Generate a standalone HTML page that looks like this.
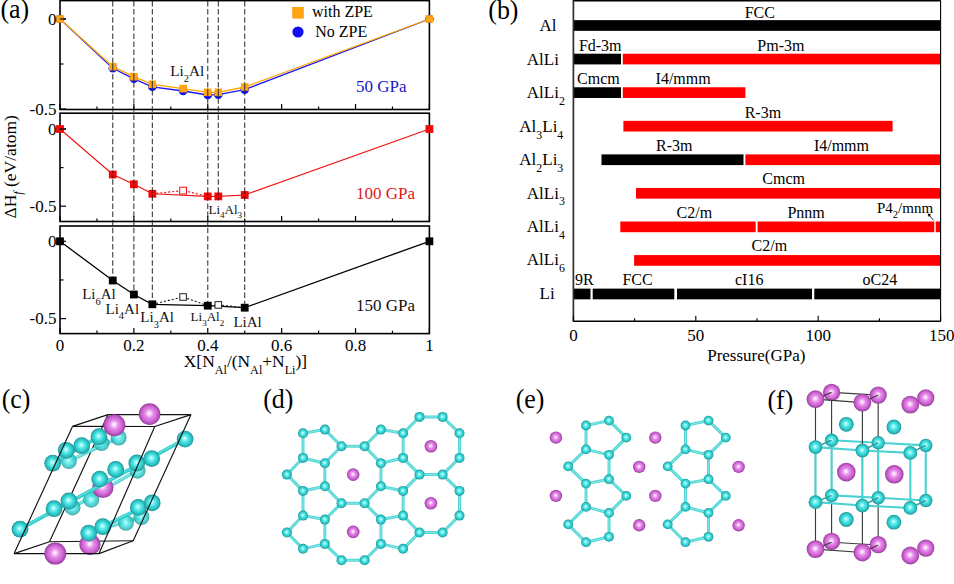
<!DOCTYPE html>
<html><head><meta charset="utf-8"><title>figure</title>
<style>
html,body{margin:0;padding:0;background:#fff;}
body{width:954px;height:584px;overflow:hidden;font-family:"Liberation Serif",serif;}
svg{display:block;}
</style></head><body>
<svg width="954" height="584" viewBox="0 0 954 584">
<defs>
<radialGradient id="gc" cx="0.5" cy="0.5" r="0.5" fx="0.47" fy="0.45">
<stop offset="0" stop-color="#f0ffff"/><stop offset="0.2" stop-color="#8ef6f6"/><stop offset="0.5" stop-color="#42dfdf"/><stop offset="0.8" stop-color="#2bbcbd"/><stop offset="1" stop-color="#1f9296"/>
</radialGradient>
<radialGradient id="gp" cx="0.5" cy="0.5" r="0.5" fx="0.48" fy="0.46">
<stop offset="0" stop-color="#ffffff"/><stop offset="0.14" stop-color="#fcd8fc"/><stop offset="0.4" stop-color="#e58ae8"/><stop offset="0.7" stop-color="#d066d4"/><stop offset="0.9" stop-color="#ac4ab2"/><stop offset="1" stop-color="#92409a"/>
</radialGradient>
</defs>
<rect x="0" y="0" width="954" height="584" fill="#ffffff"/>

<g id="panel-a">
<line x1="112.77" y1="1.00" x2="112.77" y2="280.50" stroke="#3a3a3a" stroke-width="1.1" stroke-dasharray="5.5 2.6"/>
<line x1="133.88" y1="1.00" x2="133.88" y2="294.50" stroke="#3a3a3a" stroke-width="1.1" stroke-dasharray="5.5 2.6"/>
<line x1="152.35" y1="1.00" x2="152.35" y2="304.30" stroke="#3a3a3a" stroke-width="1.1" stroke-dasharray="5.5 2.6"/>
<line x1="207.76" y1="1.00" x2="207.76" y2="305.70" stroke="#3a3a3a" stroke-width="1.1" stroke-dasharray="5.5 2.6"/>
<line x1="218.31" y1="1.00" x2="218.31" y2="196.40" stroke="#3a3a3a" stroke-width="1.1" stroke-dasharray="5.5 2.6"/>
<line x1="244.70" y1="1.00" x2="244.70" y2="307.70" stroke="#3a3a3a" stroke-width="1.1" stroke-dasharray="5.5 2.6"/>
<rect x="60.00" y="0.60" width="369.40" height="108.90" fill="none" stroke="#000" stroke-width="1.6"/>
<line x1="60.00" y1="109.50" x2="60.00" y2="104.00" stroke="#000" stroke-width="1.2" />
<line x1="96.94" y1="109.50" x2="96.94" y2="106.50" stroke="#000" stroke-width="1.2" />
<line x1="133.88" y1="109.50" x2="133.88" y2="104.00" stroke="#000" stroke-width="1.2" />
<line x1="170.82" y1="109.50" x2="170.82" y2="106.50" stroke="#000" stroke-width="1.2" />
<line x1="207.76" y1="109.50" x2="207.76" y2="104.00" stroke="#000" stroke-width="1.2" />
<line x1="244.70" y1="109.50" x2="244.70" y2="106.50" stroke="#000" stroke-width="1.2" />
<line x1="281.64" y1="109.50" x2="281.64" y2="104.00" stroke="#000" stroke-width="1.2" />
<line x1="318.58" y1="109.50" x2="318.58" y2="106.50" stroke="#000" stroke-width="1.2" />
<line x1="355.52" y1="109.50" x2="355.52" y2="104.00" stroke="#000" stroke-width="1.2" />
<line x1="392.46" y1="109.50" x2="392.46" y2="106.50" stroke="#000" stroke-width="1.2" />
<line x1="429.40" y1="109.50" x2="429.40" y2="104.00" stroke="#000" stroke-width="1.2" />
<line x1="60.00" y1="19.00" x2="66.00" y2="19.00" stroke="#000" stroke-width="1.2" />
<line x1="60.00" y1="109.00" x2="66.00" y2="109.00" stroke="#000" stroke-width="1.2" />
<line x1="60.00" y1="64.00" x2="63.50" y2="64.00" stroke="#000" stroke-width="1.2" />
<rect x="60.00" y="113.20" width="369.40" height="108.30" fill="none" stroke="#000" stroke-width="1.6"/>
<line x1="60.00" y1="221.50" x2="60.00" y2="216.00" stroke="#000" stroke-width="1.2" />
<line x1="96.94" y1="221.50" x2="96.94" y2="218.50" stroke="#000" stroke-width="1.2" />
<line x1="133.88" y1="221.50" x2="133.88" y2="216.00" stroke="#000" stroke-width="1.2" />
<line x1="170.82" y1="221.50" x2="170.82" y2="218.50" stroke="#000" stroke-width="1.2" />
<line x1="207.76" y1="221.50" x2="207.76" y2="216.00" stroke="#000" stroke-width="1.2" />
<line x1="244.70" y1="221.50" x2="244.70" y2="218.50" stroke="#000" stroke-width="1.2" />
<line x1="281.64" y1="221.50" x2="281.64" y2="216.00" stroke="#000" stroke-width="1.2" />
<line x1="318.58" y1="221.50" x2="318.58" y2="218.50" stroke="#000" stroke-width="1.2" />
<line x1="355.52" y1="221.50" x2="355.52" y2="216.00" stroke="#000" stroke-width="1.2" />
<line x1="392.46" y1="221.50" x2="392.46" y2="218.50" stroke="#000" stroke-width="1.2" />
<line x1="429.40" y1="221.50" x2="429.40" y2="216.00" stroke="#000" stroke-width="1.2" />
<line x1="60.00" y1="129.00" x2="66.00" y2="129.00" stroke="#000" stroke-width="1.2" />
<line x1="60.00" y1="206.20" x2="66.00" y2="206.20" stroke="#000" stroke-width="1.2" />
<line x1="60.00" y1="167.60" x2="63.50" y2="167.60" stroke="#000" stroke-width="1.2" />
<rect x="60.00" y="226.00" width="369.40" height="107.60" fill="none" stroke="#000" stroke-width="1.6"/>
<line x1="60.00" y1="333.60" x2="60.00" y2="328.10" stroke="#000" stroke-width="1.2" />
<line x1="96.94" y1="333.60" x2="96.94" y2="330.60" stroke="#000" stroke-width="1.2" />
<line x1="133.88" y1="333.60" x2="133.88" y2="328.10" stroke="#000" stroke-width="1.2" />
<line x1="170.82" y1="333.60" x2="170.82" y2="330.60" stroke="#000" stroke-width="1.2" />
<line x1="207.76" y1="333.60" x2="207.76" y2="328.10" stroke="#000" stroke-width="1.2" />
<line x1="244.70" y1="333.60" x2="244.70" y2="330.60" stroke="#000" stroke-width="1.2" />
<line x1="281.64" y1="333.60" x2="281.64" y2="328.10" stroke="#000" stroke-width="1.2" />
<line x1="318.58" y1="333.60" x2="318.58" y2="330.60" stroke="#000" stroke-width="1.2" />
<line x1="355.52" y1="333.60" x2="355.52" y2="328.10" stroke="#000" stroke-width="1.2" />
<line x1="392.46" y1="333.60" x2="392.46" y2="330.60" stroke="#000" stroke-width="1.2" />
<line x1="429.40" y1="333.60" x2="429.40" y2="328.10" stroke="#000" stroke-width="1.2" />
<line x1="60.00" y1="241.30" x2="66.00" y2="241.30" stroke="#000" stroke-width="1.2" />
<line x1="60.00" y1="318.60" x2="66.00" y2="318.60" stroke="#000" stroke-width="1.2" />
<line x1="60.00" y1="279.95" x2="63.50" y2="279.95" stroke="#000" stroke-width="1.2" />
<polyline points="60.0,19.0 112.8,68.3 133.9,78.8 152.3,86.8 183.1,91.0 207.8,95.0 218.3,94.6 244.7,89.6 429.4,19.0" fill="none" stroke="#1a1aee" stroke-width="1.3"/>
<circle cx="60.0" cy="19.0" r="4.3" fill="#1010f0"/>
<circle cx="112.8" cy="68.3" r="4.3" fill="#1010f0"/>
<circle cx="133.9" cy="78.8" r="4.3" fill="#1010f0"/>
<circle cx="152.3" cy="86.8" r="4.3" fill="#1010f0"/>
<circle cx="183.1" cy="91.0" r="4.3" fill="#1010f0"/>
<circle cx="207.8" cy="95.0" r="4.3" fill="#1010f0"/>
<circle cx="218.3" cy="94.6" r="4.3" fill="#1010f0"/>
<circle cx="244.7" cy="89.6" r="4.3" fill="#1010f0"/>
<circle cx="429.4" cy="19.0" r="4.3" fill="#1010f0"/>
<polyline points="60.0,19.0 112.8,66.7 133.9,76.7 152.3,84.3 183.1,88.6 207.8,92.3 218.3,92.3 244.7,87.0 429.4,19.0" fill="none" stroke="#ffa500" stroke-width="1.3"/>
<rect x="56.20" y="15.20" width="7.60" height="7.60" fill="#ffa412" />
<rect x="108.97" y="62.90" width="7.60" height="7.60" fill="#ffa412" />
<rect x="130.08" y="72.90" width="7.60" height="7.60" fill="#ffa412" />
<rect x="148.55" y="80.50" width="7.60" height="7.60" fill="#ffa412" />
<rect x="179.33" y="84.80" width="7.60" height="7.60" fill="#ffa412" />
<rect x="203.96" y="88.50" width="7.60" height="7.60" fill="#ffa412" />
<rect x="214.51" y="88.50" width="7.60" height="7.60" fill="#ffa412" />
<rect x="240.90" y="83.20" width="7.60" height="7.60" fill="#ffa412" />
<rect x="425.60" y="15.20" width="7.60" height="7.60" fill="#ffa412" />
<line x1="112.77" y1="63.20" x2="112.77" y2="71.70" stroke="#3a3a3a" stroke-width="1.1" />
<line x1="133.88" y1="73.20" x2="133.88" y2="81.70" stroke="#3a3a3a" stroke-width="1.1" />
<line x1="152.35" y1="80.80" x2="152.35" y2="89.30" stroke="#3a3a3a" stroke-width="1.1" />
<line x1="207.76" y1="88.80" x2="207.76" y2="97.30" stroke="#3a3a3a" stroke-width="1.1" />
<line x1="218.31" y1="88.80" x2="218.31" y2="97.30" stroke="#3a3a3a" stroke-width="1.1" />
<line x1="244.70" y1="83.50" x2="244.70" y2="92.00" stroke="#3a3a3a" stroke-width="1.1" />
<line x1="60.00" y1="19.00" x2="66.00" y2="19.00" stroke="#000" stroke-width="1.2" />
<rect x="292.20" y="7.00" width="11.60" height="11.60" fill="#ffa412" />
<circle cx="298" cy="32" r="5.6" fill="#1010f0"/>
<text x="312.00" y="17.20" font-size="16" fill="#000" text-anchor="start" font-family="Liberation Serif, serif" >with ZPE</text>
<text x="315.20" y="37.20" font-size="16" fill="#000" text-anchor="start" font-family="Liberation Serif, serif" >No ZPE</text>
<text x="356.00" y="91.60" font-size="17" fill="#1818c8" text-anchor="start" font-family="Liberation Serif, serif" >50 GPa</text>
<text x="170.20" y="76.40" font-size="15.2" fill="#111" text-anchor="start" font-family="Liberation Serif, serif" >Li<tspan font-size="10.6" dy="5.8">2</tspan><tspan dy="-5.8" font-size="15.2">&#8203;</tspan>Al</text>
<polyline points="60.0,129.0 112.8,174.5 133.9,184.3 152.3,193.8 207.8,196.4 218.3,196.4 244.7,195.0 429.4,129.0" fill="none" stroke="#ee1111" stroke-width="1.15"/>
<polyline points="152.3,193.8 183.1,190.6 207.8,196.4" fill="none" stroke="#ee1111" stroke-width="1.2" stroke-dasharray="2 2"/>
<rect x="179.7" y="187.2" width="6.8" height="6.8" fill="#fff" stroke="#ee1111" stroke-width="1"/>
<rect x="56.10" y="125.10" width="7.80" height="7.80" fill="#ee0a0a" />
<rect x="108.87" y="170.60" width="7.80" height="7.80" fill="#ee0a0a" />
<rect x="129.98" y="180.40" width="7.80" height="7.80" fill="#ee0a0a" />
<rect x="148.45" y="189.90" width="7.80" height="7.80" fill="#ee0a0a" />
<rect x="203.86" y="192.50" width="7.80" height="7.80" fill="#ee0a0a" />
<rect x="214.41" y="192.50" width="7.80" height="7.80" fill="#ee0a0a" />
<rect x="240.80" y="191.10" width="7.80" height="7.80" fill="#ee0a0a" />
<rect x="425.50" y="125.10" width="7.80" height="7.80" fill="#ee0a0a" />
<line x1="112.77" y1="170.50" x2="112.77" y2="178.50" stroke="#5a0000" stroke-width="0.9" stroke-dasharray="3 2"/>
<line x1="133.88" y1="180.30" x2="133.88" y2="188.30" stroke="#5a0000" stroke-width="0.9" stroke-dasharray="3 2"/>
<line x1="152.35" y1="189.80" x2="152.35" y2="197.80" stroke="#5a0000" stroke-width="0.9" stroke-dasharray="3 2"/>
<line x1="207.76" y1="192.40" x2="207.76" y2="200.40" stroke="#5a0000" stroke-width="0.9" stroke-dasharray="3 2"/>
<line x1="218.31" y1="192.40" x2="218.31" y2="200.40" stroke="#5a0000" stroke-width="0.9" stroke-dasharray="3 2"/>
<line x1="244.70" y1="191.00" x2="244.70" y2="199.00" stroke="#5a0000" stroke-width="0.9" stroke-dasharray="3 2"/>
<line x1="60.00" y1="129.00" x2="66.00" y2="129.00" stroke="#000" stroke-width="1.2" />
<text x="356.00" y="198.80" font-size="17" fill="#de1a1a" text-anchor="start" font-family="Liberation Serif, serif" >100 GPa</text>
<text x="208.50" y="213.50" font-size="13" fill="#111" text-anchor="start" font-family="Liberation Serif, serif" >Li<tspan font-size="9.1" dy="4.9">4</tspan><tspan dy="-4.9" font-size="13">&#8203;</tspan>Al<tspan font-size="9.1" dy="4.9">3</tspan><tspan dy="-4.9" font-size="13">&#8203;</tspan></text>
<polyline points="60.0,241.3 112.8,280.5 133.9,294.5 152.3,304.3 207.8,305.7 244.7,307.7 429.4,241.3" fill="none" stroke="#000" stroke-width="1.3"/>
<polyline points="152.3,304.3 183.1,297 207.8,305.7 218.3,304.9 244.7,307.7" fill="none" stroke="#111" stroke-width="1.1" stroke-dasharray="2 2"/>
<rect x="179.8" y="293.7" width="6.6" height="6.6" fill="#fff" stroke="#222" stroke-width="1"/>
<rect x="215.0" y="301.6" width="6.6" height="6.6" fill="#fff" stroke="#222" stroke-width="1"/>
<rect x="56.10" y="237.40" width="7.80" height="7.80" fill="#000" />
<rect x="108.87" y="276.60" width="7.80" height="7.80" fill="#000" />
<rect x="129.98" y="290.60" width="7.80" height="7.80" fill="#000" />
<rect x="148.45" y="300.40" width="7.80" height="7.80" fill="#000" />
<rect x="203.86" y="301.80" width="7.80" height="7.80" fill="#000" />
<rect x="240.80" y="303.80" width="7.80" height="7.80" fill="#000" />
<rect x="425.50" y="237.40" width="7.80" height="7.80" fill="#000" />
<text x="356.00" y="311.30" font-size="17" fill="#111" text-anchor="start" font-family="Liberation Serif, serif" >150 GPa</text>
<text x="82.20" y="298.80" font-size="15" fill="#111" text-anchor="start" font-family="Liberation Serif, serif" >Li<tspan font-size="10.5" dy="5.7">6</tspan><tspan dy="-5.7" font-size="15">&#8203;</tspan>Al</text>
<text x="105.50" y="313.60" font-size="15" fill="#111" text-anchor="start" font-family="Liberation Serif, serif" >Li<tspan font-size="10.5" dy="5.7">4</tspan><tspan dy="-5.7" font-size="15">&#8203;</tspan>Al</text>
<text x="140.30" y="321.80" font-size="15" fill="#111" text-anchor="start" font-family="Liberation Serif, serif" >Li<tspan font-size="10.5" dy="5.7">3</tspan><tspan dy="-5.7" font-size="15">&#8203;</tspan>Al</text>
<text x="190.60" y="320.90" font-size="13" fill="#111" text-anchor="start" font-family="Liberation Serif, serif" >Li<tspan font-size="9.1" dy="4.9">3</tspan><tspan dy="-4.9" font-size="13">&#8203;</tspan>Al<tspan font-size="9.1" dy="4.9">2</tspan><tspan dy="-4.9" font-size="13">&#8203;</tspan></text>
<text x="233.40" y="326.50" font-size="15" fill="#111" text-anchor="start" font-family="Liberation Serif, serif" >LiAl</text>
<text x="56.50" y="24.60" font-size="17" fill="#000" text-anchor="end" font-family="Liberation Serif, serif" >0</text>
<text x="56.50" y="114.60" font-size="17" fill="#000" text-anchor="end" font-family="Liberation Serif, serif" >-0.5</text>
<text x="56.50" y="134.60" font-size="17" fill="#000" text-anchor="end" font-family="Liberation Serif, serif" >0</text>
<text x="56.50" y="211.80" font-size="17" fill="#000" text-anchor="end" font-family="Liberation Serif, serif" >-0.5</text>
<text x="56.50" y="246.90" font-size="17" fill="#000" text-anchor="end" font-family="Liberation Serif, serif" >0</text>
<text x="56.50" y="324.20" font-size="17" fill="#000" text-anchor="end" font-family="Liberation Serif, serif" >-0.5</text>
<text x="60.00" y="350.50" font-size="17" fill="#000" text-anchor="middle" font-family="Liberation Serif, serif" >0</text>
<text x="133.88" y="350.50" font-size="17" fill="#000" text-anchor="middle" font-family="Liberation Serif, serif" >0.2</text>
<text x="207.76" y="350.50" font-size="17" fill="#000" text-anchor="middle" font-family="Liberation Serif, serif" >0.4</text>
<text x="281.64" y="350.50" font-size="17" fill="#000" text-anchor="middle" font-family="Liberation Serif, serif" >0.6</text>
<text x="355.52" y="350.50" font-size="17" fill="#000" text-anchor="middle" font-family="Liberation Serif, serif" >0.8</text>
<text x="429.40" y="350.50" font-size="17" fill="#000" text-anchor="middle" font-family="Liberation Serif, serif" >1</text>
<text x="183.80" y="367.20" font-size="17.4" fill="#000" text-anchor="start" font-family="Liberation Serif, serif" >X[N<tspan font-size="12.2" dy="6.6">Al</tspan><tspan dy="-6.6" font-size="17.4">&#8203;</tspan>/(N<tspan font-size="12.2" dy="6.6">Al</tspan><tspan dy="-6.6" font-size="17.4">&#8203;</tspan>+N<tspan font-size="12.2" dy="6.6">Li</tspan><tspan dy="-6.6" font-size="17.4">&#8203;</tspan>)]</text>
<text transform="translate(16.2,218.6) rotate(-90)" font-size="17.5" font-family="Liberation Serif, serif" fill="#000">ΔH<tspan font-size="12" dy="5.5" font-style="italic">f</tspan><tspan dy="-5.5"> (eV/atom)</tspan></text>
<text transform="translate(0.50,18.20) scale(0.945,1)" font-size="27.4" fill="#000" font-family="Liberation Serif, serif">(a)</text>
</g>
<g id="panel-b">
<rect x="573.40" y="20.15" width="366.60" height="10.70" fill="#000" />
<rect x="573.40" y="53.71" width="47.60" height="10.70" fill="#000" />
<rect x="622.80" y="53.71" width="317.20" height="10.70" fill="#ff0000" />
<rect x="573.40" y="87.27" width="47.60" height="10.70" fill="#000" />
<rect x="622.80" y="87.27" width="122.60" height="10.70" fill="#ff0000" />
<rect x="623.40" y="120.83" width="269.20" height="10.70" fill="#ff0000" />
<rect x="601.50" y="154.39" width="142.00" height="10.70" fill="#000" />
<rect x="745.40" y="154.39" width="194.60" height="10.70" fill="#ff0000" />
<rect x="636.00" y="187.95" width="304.00" height="10.70" fill="#ff0000" />
<rect x="620.30" y="221.51" width="135.40" height="10.70" fill="#ff0000" />
<rect x="757.60" y="221.51" width="176.70" height="10.70" fill="#ff0000" />
<rect x="935.70" y="221.51" width="4.30" height="10.70" fill="#ff0000" />
<rect x="634.10" y="255.07" width="305.90" height="10.70" fill="#ff0000" />
<rect x="573.40" y="288.63" width="17.10" height="10.70" fill="#000" />
<rect x="592.70" y="288.63" width="81.60" height="10.70" fill="#000" />
<rect x="677.00" y="288.63" width="135.00" height="10.70" fill="#000" />
<rect x="814.30" y="288.63" width="125.70" height="10.70" fill="#000" />
<line x1="573.40" y1="0.65" x2="940.80" y2="0.65" stroke="#000" stroke-width="1.6" />
<line x1="573.40" y1="321.30" x2="940.80" y2="321.30" stroke="#000" stroke-width="1.6" />
<line x1="573.40" y1="-0.15" x2="573.40" y2="322.10" stroke="#2e2e2e" stroke-width="1.7" />
<line x1="940.60" y1="0.65" x2="940.60" y2="321.30" stroke="#000" stroke-width="1.1" />
<line x1="573.40" y1="321.30" x2="573.40" y2="315.80" stroke="#000" stroke-width="1.1" />
<line x1="634.60" y1="321.30" x2="634.60" y2="318.30" stroke="#000" stroke-width="1.1" />
<line x1="695.80" y1="321.30" x2="695.80" y2="315.80" stroke="#000" stroke-width="1.1" />
<line x1="757.00" y1="321.30" x2="757.00" y2="318.30" stroke="#000" stroke-width="1.1" />
<line x1="818.20" y1="321.30" x2="818.20" y2="315.80" stroke="#000" stroke-width="1.1" />
<line x1="879.40" y1="321.30" x2="879.40" y2="318.30" stroke="#000" stroke-width="1.1" />
<line x1="940.60" y1="321.30" x2="940.60" y2="315.80" stroke="#000" stroke-width="1.1" />
<text x="539.60" y="31.40" font-size="17" fill="#000" text-anchor="start" font-family="Liberation Serif, serif" >Al</text>
<text x="526.80" y="64.70" font-size="17" fill="#000" text-anchor="start" font-family="Liberation Serif, serif" >AlLi</text>
<text x="526.80" y="98.10" font-size="17" fill="#000" text-anchor="start" font-family="Liberation Serif, serif" >AlLi<tspan font-size="11.9" dy="6.5">2</tspan><tspan dy="-6.5" font-size="17">&#8203;</tspan></text>
<text x="519.30" y="132.00" font-size="17" fill="#000" text-anchor="start" font-family="Liberation Serif, serif" >Al<tspan font-size="11.9" dy="6.5">3</tspan><tspan dy="-6.5" font-size="17">&#8203;</tspan>Li<tspan font-size="11.9" dy="6.5">4</tspan><tspan dy="-6.5" font-size="17">&#8203;</tspan></text>
<text x="519.30" y="165.40" font-size="17" fill="#000" text-anchor="start" font-family="Liberation Serif, serif" >Al<tspan font-size="11.9" dy="6.5">2</tspan><tspan dy="-6.5" font-size="17">&#8203;</tspan>Li<tspan font-size="11.9" dy="6.5">3</tspan><tspan dy="-6.5" font-size="17">&#8203;</tspan></text>
<text x="526.80" y="198.60" font-size="17" fill="#000" text-anchor="start" font-family="Liberation Serif, serif" >AlLi<tspan font-size="11.9" dy="6.5">3</tspan><tspan dy="-6.5" font-size="17">&#8203;</tspan></text>
<text x="526.80" y="232.30" font-size="17" fill="#000" text-anchor="start" font-family="Liberation Serif, serif" >AlLi<tspan font-size="11.9" dy="6.5">4</tspan><tspan dy="-6.5" font-size="17">&#8203;</tspan></text>
<text x="526.80" y="265.30" font-size="17" fill="#000" text-anchor="start" font-family="Liberation Serif, serif" >AlLi<tspan font-size="11.9" dy="6.5">6</tspan><tspan dy="-6.5" font-size="17">&#8203;</tspan></text>
<text x="539.50" y="299.20" font-size="17" fill="#000" text-anchor="start" font-family="Liberation Serif, serif" >Li</text>
<text x="744.70" y="17.60" font-size="16" fill="#000" text-anchor="start" font-family="Liberation Serif, serif" >FCC</text>
<text x="578.90" y="50.50" font-size="16" fill="#000" text-anchor="start" font-family="Liberation Serif, serif" >Fd-3m</text>
<text x="757.30" y="50.80" font-size="16" fill="#000" text-anchor="start" font-family="Liberation Serif, serif" >Pm-3m</text>
<text x="577.10" y="83.60" font-size="16" fill="#000" text-anchor="start" font-family="Liberation Serif, serif" >Cmcm</text>
<text x="655.60" y="83.60" font-size="16" fill="#000" text-anchor="start" font-family="Liberation Serif, serif" >I4/mmm</text>
<text x="744.70" y="117.50" font-size="16" fill="#000" text-anchor="start" font-family="Liberation Serif, serif" >R-3m</text>
<text x="656.10" y="151.00" font-size="16" fill="#000" text-anchor="start" font-family="Liberation Serif, serif" >R-3m</text>
<text x="813.90" y="151.00" font-size="16" fill="#000" text-anchor="start" font-family="Liberation Serif, serif" >I4/mmm</text>
<text x="762.30" y="184.30" font-size="16" fill="#000" text-anchor="start" font-family="Liberation Serif, serif" >Cmcm</text>
<text x="676.60" y="217.80" font-size="16" fill="#000" text-anchor="start" font-family="Liberation Serif, serif" >C2/m</text>
<text x="787.40" y="217.70" font-size="16" fill="#000" text-anchor="start" font-family="Liberation Serif, serif" >Pnnm</text>
<text x="877.00" y="212.70" font-size="15" fill="#000" text-anchor="start" font-family="Liberation Serif, serif" >P4<tspan font-size="10.5" dy="5.7">2</tspan><tspan dy="-5.7" font-size="15">&#8203;</tspan>/mnm</text>
<text x="751.60" y="251.40" font-size="16" fill="#000" text-anchor="start" font-family="Liberation Serif, serif" >C2/m</text>
<text x="575.00" y="285.20" font-size="16" fill="#000" text-anchor="start" font-family="Liberation Serif, serif" >9R</text>
<text x="622.40" y="285.20" font-size="16" fill="#000" text-anchor="start" font-family="Liberation Serif, serif" >FCC</text>
<text x="735.00" y="284.80" font-size="16" fill="#000" text-anchor="start" font-family="Liberation Serif, serif" >cI16</text>
<text x="862.50" y="284.80" font-size="16" fill="#000" text-anchor="start" font-family="Liberation Serif, serif" >oC24</text>
<line x1="933.60" y1="220.40" x2="928.60" y2="214.60" stroke="#000" stroke-width="0.8" />
<path d="M927.6 213.6 L931.2 214.6 L928.8 217 Z" fill="#000"/>
<text x="573.40" y="341.10" font-size="17" fill="#000" text-anchor="middle" font-family="Liberation Serif, serif" >0</text>
<text x="695.80" y="341.10" font-size="17" fill="#000" text-anchor="middle" font-family="Liberation Serif, serif" >50</text>
<text x="818.20" y="341.10" font-size="17" fill="#000" text-anchor="middle" font-family="Liberation Serif, serif" >100</text>
<text x="929.00" y="341.10" font-size="17" fill="#000" text-anchor="start" font-family="Liberation Serif, serif" >150</text>
<text x="707.20" y="361.30" font-size="17" fill="#000" text-anchor="start" font-family="Liberation Serif, serif" >Pressure(GPa)</text>
<text transform="translate(488.30,18.80) scale(0.945,1)" font-size="27.4" fill="#000" font-family="Liberation Serif, serif">(b)</text>
</g>
<g id="panel-c">
<text transform="translate(1.70,408.00) scale(0.945,1)" font-size="27.4" fill="#000" font-family="Liberation Serif, serif">(c)</text>
<line x1="49.50" y1="541.80" x2="133.20" y2="540.80" stroke="#111" stroke-width="1.15" />
<line x1="14.10" y1="553.60" x2="49.50" y2="541.80" stroke="#111" stroke-width="1.15" />
<line x1="49.50" y1="541.80" x2="108.00" y2="414.60" stroke="#111" stroke-width="1.15" />
<line x1="68.90" y1="461.10" x2="118.60" y2="437.50" stroke="#55d6d6" stroke-width="3.4" stroke-linecap="round"/>
<line x1="68.90" y1="460.60" x2="118.60" y2="437.00" stroke="#8eeaea" stroke-width="1.2" />
<line x1="72.50" y1="507.40" x2="139.00" y2="469.50" stroke="#55d6d6" stroke-width="3.4" stroke-linecap="round"/>
<line x1="72.50" y1="506.90" x2="139.00" y2="469.00" stroke="#8eeaea" stroke-width="1.2" />
<line x1="104.00" y1="528.00" x2="141.40" y2="517.00" stroke="#55d6d6" stroke-width="3.4" stroke-linecap="round"/>
<line x1="104.00" y1="527.50" x2="141.40" y2="516.50" stroke="#8eeaea" stroke-width="1.2" />
<circle cx="68.9" cy="461.1" r="8.0" fill="url(#gc)" opacity="0.82"/>
<circle cx="101.5" cy="443.1" r="8.0" fill="url(#gc)" opacity="0.82"/>
<circle cx="118.6" cy="437.5" r="8.0" fill="url(#gc)" opacity="0.82"/>
<circle cx="72.5" cy="507.4" r="8.0" fill="url(#gc)" opacity="0.82"/>
<circle cx="91.2" cy="499.7" r="8.0" fill="url(#gc)" opacity="0.82"/>
<circle cx="137.5" cy="470.7" r="8.0" fill="url(#gc)" opacity="0.82"/>
<circle cx="126.0" cy="522.8" r="8.0" fill="url(#gc)" opacity="0.82"/>
<circle cx="141.4" cy="517.0" r="8.0" fill="url(#gc)" opacity="0.82"/>
<circle cx="102.9" cy="487.4" r="10.6" fill="url(#gp)"/>
<circle cx="90.0" cy="544.6" r="10.6" fill="url(#gp)"/>
<line x1="52.70" y1="463.20" x2="99.00" y2="436.70" stroke="#30cccc" stroke-width="3.8" stroke-linecap="round"/>
<line x1="52.70" y1="462.70" x2="99.00" y2="436.20" stroke="#5fe0e0" stroke-width="1.2" />
<line x1="20.00" y1="529.20" x2="185.10" y2="439.10" stroke="#30cccc" stroke-width="3.8" stroke-linecap="round"/>
<line x1="20.00" y1="528.70" x2="185.10" y2="438.60" stroke="#5fe0e0" stroke-width="1.2" />
<line x1="88.70" y1="533.10" x2="152.20" y2="502.80" stroke="#30cccc" stroke-width="3.8" stroke-linecap="round"/>
<line x1="88.70" y1="532.60" x2="152.20" y2="502.30" stroke="#5fe0e0" stroke-width="1.2" />
<circle cx="52.7" cy="463.2" r="8.4" fill="url(#gc)"/>
<circle cx="66.3" cy="450.3" r="8.4" fill="url(#gc)"/>
<circle cx="81.7" cy="445.7" r="8.4" fill="url(#gc)"/>
<circle cx="99.0" cy="436.7" r="8.4" fill="url(#gc)"/>
<circle cx="20.0" cy="529.2" r="8.4" fill="url(#gc)"/>
<circle cx="54.0" cy="508.7" r="8.4" fill="url(#gc)"/>
<circle cx="68.9" cy="501.0" r="8.4" fill="url(#gc)"/>
<circle cx="99.7" cy="479.1" r="8.4" fill="url(#gc)"/>
<circle cx="115.7" cy="469.4" r="8.4" fill="url(#gc)"/>
<circle cx="136.8" cy="463.0" r="8.4" fill="url(#gc)"/>
<circle cx="151.7" cy="458.6" r="8.4" fill="url(#gc)"/>
<circle cx="185.1" cy="439.1" r="8.4" fill="url(#gc)"/>
<circle cx="88.7" cy="533.1" r="8.4" fill="url(#gc)"/>
<circle cx="102.8" cy="526.7" r="8.4" fill="url(#gc)"/>
<circle cx="138.3" cy="507.4" r="8.4" fill="url(#gc)"/>
<circle cx="152.2" cy="502.8" r="8.4" fill="url(#gc)"/>
<line x1="14.10" y1="553.60" x2="99.00" y2="553.60" stroke="#111" stroke-width="1.15" />
<line x1="99.00" y1="553.60" x2="133.20" y2="540.80" stroke="#111" stroke-width="1.15" />
<line x1="14.10" y1="553.60" x2="72.50" y2="426.40" stroke="#111" stroke-width="1.15" />
<line x1="99.00" y1="553.60" x2="154.80" y2="426.50" stroke="#111" stroke-width="1.15" />
<line x1="133.20" y1="540.80" x2="191.00" y2="414.60" stroke="#111" stroke-width="1.15" />
<line x1="72.50" y1="426.40" x2="154.80" y2="426.50" stroke="#111" stroke-width="1.15" />
<line x1="154.80" y1="426.50" x2="191.00" y2="414.60" stroke="#111" stroke-width="1.15" />
<line x1="191.00" y1="414.60" x2="108.00" y2="414.60" stroke="#111" stroke-width="1.15" />
<line x1="108.00" y1="414.60" x2="72.50" y2="426.40" stroke="#111" stroke-width="1.15" />
<circle cx="149.6" cy="414.1" r="10.8" fill="url(#gp)"/>
<circle cx="114.4" cy="425.2" r="11" fill="url(#gp)"/>
<circle cx="55.3" cy="553.6" r="11" fill="url(#gp)"/>
</g>
<g id="panel-d">
<text transform="translate(263.20,408.00) scale(0.945,1)" font-size="27.4" fill="#000" font-family="Liberation Serif, serif">(d)</text>
<line x1="302.97" y1="433.28" x2="324.85" y2="429.58" stroke="#4fd6d6" stroke-width="3.0" stroke-linecap="round"/>
<line x1="302.97" y1="433.28" x2="324.85" y2="429.58" stroke="#92eaea" stroke-width="0.8400000000000001" />
<line x1="324.85" y1="429.58" x2="341.49" y2="446.22" stroke="#4fd6d6" stroke-width="3.0" stroke-linecap="round"/>
<line x1="324.85" y1="429.58" x2="341.49" y2="446.22" stroke="#92eaea" stroke-width="0.8400000000000001" />
<line x1="341.49" y1="446.22" x2="324.85" y2="463.17" stroke="#4fd6d6" stroke-width="3.0" stroke-linecap="round"/>
<line x1="341.49" y1="446.22" x2="324.85" y2="463.17" stroke="#92eaea" stroke-width="0.8400000000000001" />
<line x1="324.85" y1="463.17" x2="302.97" y2="457.94" stroke="#4fd6d6" stroke-width="3.0" stroke-linecap="round"/>
<line x1="324.85" y1="463.17" x2="302.97" y2="457.94" stroke="#92eaea" stroke-width="0.8400000000000001" />
<line x1="302.97" y1="457.94" x2="302.97" y2="433.28" stroke="#4fd6d6" stroke-width="3.0" stroke-linecap="round"/>
<line x1="302.97" y1="457.94" x2="302.97" y2="433.28" stroke="#92eaea" stroke-width="0.8400000000000001" />
<line x1="380.94" y1="429.58" x2="403.13" y2="433.28" stroke="#4fd6d6" stroke-width="3.0" stroke-linecap="round"/>
<line x1="380.94" y1="429.58" x2="403.13" y2="433.28" stroke="#92eaea" stroke-width="0.8400000000000001" />
<line x1="403.13" y1="433.28" x2="403.13" y2="457.94" stroke="#4fd6d6" stroke-width="3.0" stroke-linecap="round"/>
<line x1="403.13" y1="433.28" x2="403.13" y2="457.94" stroke="#92eaea" stroke-width="0.8400000000000001" />
<line x1="403.13" y1="457.94" x2="380.94" y2="463.17" stroke="#4fd6d6" stroke-width="3.0" stroke-linecap="round"/>
<line x1="403.13" y1="457.94" x2="380.94" y2="463.17" stroke="#92eaea" stroke-width="0.8400000000000001" />
<line x1="380.94" y1="463.17" x2="364.61" y2="446.22" stroke="#4fd6d6" stroke-width="3.0" stroke-linecap="round"/>
<line x1="380.94" y1="463.17" x2="364.61" y2="446.22" stroke="#92eaea" stroke-width="0.8400000000000001" />
<line x1="364.61" y1="446.22" x2="380.94" y2="429.58" stroke="#4fd6d6" stroke-width="3.0" stroke-linecap="round"/>
<line x1="364.61" y1="446.22" x2="380.94" y2="429.58" stroke="#92eaea" stroke-width="0.8400000000000001" />
<line x1="341.49" y1="446.22" x2="364.61" y2="446.22" stroke="#4fd6d6" stroke-width="3.0" stroke-linecap="round"/>
<line x1="341.49" y1="446.22" x2="364.61" y2="446.22" stroke="#92eaea" stroke-width="0.8400000000000001" />
<line x1="419.46" y1="416.95" x2="442.57" y2="416.95" stroke="#4fd6d6" stroke-width="3.0" stroke-linecap="round"/>
<line x1="419.46" y1="416.95" x2="442.57" y2="416.95" stroke="#92eaea" stroke-width="0.8400000000000001" />
<line x1="442.57" y1="416.95" x2="459.52" y2="433.28" stroke="#4fd6d6" stroke-width="3.0" stroke-linecap="round"/>
<line x1="442.57" y1="416.95" x2="459.52" y2="433.28" stroke="#92eaea" stroke-width="0.8400000000000001" />
<line x1="459.52" y1="433.28" x2="459.52" y2="457.94" stroke="#4fd6d6" stroke-width="3.0" stroke-linecap="round"/>
<line x1="459.52" y1="433.28" x2="459.52" y2="457.94" stroke="#92eaea" stroke-width="0.8400000000000001" />
<line x1="459.52" y1="457.94" x2="442.57" y2="474.58" stroke="#4fd6d6" stroke-width="3.0" stroke-linecap="round"/>
<line x1="459.52" y1="457.94" x2="442.57" y2="474.58" stroke="#92eaea" stroke-width="0.8400000000000001" />
<line x1="442.57" y1="474.58" x2="419.46" y2="474.58" stroke="#4fd6d6" stroke-width="3.0" stroke-linecap="round"/>
<line x1="442.57" y1="474.58" x2="419.46" y2="474.58" stroke="#92eaea" stroke-width="0.8400000000000001" />
<line x1="419.46" y1="474.58" x2="403.13" y2="457.94" stroke="#4fd6d6" stroke-width="3.0" stroke-linecap="round"/>
<line x1="419.46" y1="474.58" x2="403.13" y2="457.94" stroke="#92eaea" stroke-width="0.8400000000000001" />
<line x1="403.13" y1="433.28" x2="419.46" y2="416.95" stroke="#4fd6d6" stroke-width="3.0" stroke-linecap="round"/>
<line x1="403.13" y1="433.28" x2="419.46" y2="416.95" stroke="#92eaea" stroke-width="0.8400000000000001" />
<line x1="302.97" y1="457.94" x2="286.95" y2="474.58" stroke="#4fd6d6" stroke-width="3.0" stroke-linecap="round"/>
<line x1="302.97" y1="457.94" x2="286.95" y2="474.58" stroke="#92eaea" stroke-width="0.8400000000000001" />
<line x1="286.95" y1="474.58" x2="302.97" y2="490.91" stroke="#4fd6d6" stroke-width="3.0" stroke-linecap="round"/>
<line x1="286.95" y1="474.58" x2="302.97" y2="490.91" stroke="#92eaea" stroke-width="0.8400000000000001" />
<line x1="302.97" y1="490.91" x2="324.85" y2="486.29" stroke="#4fd6d6" stroke-width="3.0" stroke-linecap="round"/>
<line x1="302.97" y1="490.91" x2="324.85" y2="486.29" stroke="#92eaea" stroke-width="0.8400000000000001" />
<line x1="324.85" y1="486.29" x2="324.85" y2="463.17" stroke="#4fd6d6" stroke-width="3.0" stroke-linecap="round"/>
<line x1="324.85" y1="486.29" x2="324.85" y2="463.17" stroke="#92eaea" stroke-width="0.8400000000000001" />
<line x1="380.94" y1="463.17" x2="380.94" y2="486.29" stroke="#4fd6d6" stroke-width="3.0" stroke-linecap="round"/>
<line x1="380.94" y1="463.17" x2="380.94" y2="486.29" stroke="#92eaea" stroke-width="0.8400000000000001" />
<line x1="380.94" y1="486.29" x2="364.61" y2="503.24" stroke="#4fd6d6" stroke-width="3.0" stroke-linecap="round"/>
<line x1="380.94" y1="486.29" x2="364.61" y2="503.24" stroke="#92eaea" stroke-width="0.8400000000000001" />
<line x1="364.61" y1="503.24" x2="341.49" y2="503.24" stroke="#4fd6d6" stroke-width="3.0" stroke-linecap="round"/>
<line x1="364.61" y1="503.24" x2="341.49" y2="503.24" stroke="#92eaea" stroke-width="0.8400000000000001" />
<line x1="341.49" y1="503.24" x2="324.85" y2="486.29" stroke="#4fd6d6" stroke-width="3.0" stroke-linecap="round"/>
<line x1="341.49" y1="503.24" x2="324.85" y2="486.29" stroke="#92eaea" stroke-width="0.8400000000000001" />
<line x1="380.94" y1="486.29" x2="403.13" y2="490.91" stroke="#4fd6d6" stroke-width="3.0" stroke-linecap="round"/>
<line x1="380.94" y1="486.29" x2="403.13" y2="490.91" stroke="#92eaea" stroke-width="0.8400000000000001" />
<line x1="403.13" y1="490.91" x2="419.46" y2="474.58" stroke="#4fd6d6" stroke-width="3.0" stroke-linecap="round"/>
<line x1="403.13" y1="490.91" x2="419.46" y2="474.58" stroke="#92eaea" stroke-width="0.8400000000000001" />
<line x1="403.13" y1="490.91" x2="403.13" y2="515.56" stroke="#4fd6d6" stroke-width="3.0" stroke-linecap="round"/>
<line x1="403.13" y1="490.91" x2="403.13" y2="515.56" stroke="#92eaea" stroke-width="0.8400000000000001" />
<line x1="302.97" y1="490.91" x2="302.97" y2="515.56" stroke="#4fd6d6" stroke-width="3.0" stroke-linecap="round"/>
<line x1="302.97" y1="490.91" x2="302.97" y2="515.56" stroke="#92eaea" stroke-width="0.8400000000000001" />
<line x1="442.57" y1="474.58" x2="459.52" y2="490.91" stroke="#4fd6d6" stroke-width="3.0" stroke-linecap="round"/>
<line x1="442.57" y1="474.58" x2="459.52" y2="490.91" stroke="#92eaea" stroke-width="0.8400000000000001" />
<line x1="459.52" y1="490.91" x2="459.52" y2="515.56" stroke="#4fd6d6" stroke-width="3.0" stroke-linecap="round"/>
<line x1="459.52" y1="490.91" x2="459.52" y2="515.56" stroke="#92eaea" stroke-width="0.8400000000000001" />
<line x1="459.52" y1="515.56" x2="442.57" y2="532.51" stroke="#4fd6d6" stroke-width="3.0" stroke-linecap="round"/>
<line x1="459.52" y1="515.56" x2="442.57" y2="532.51" stroke="#92eaea" stroke-width="0.8400000000000001" />
<line x1="442.57" y1="532.51" x2="419.46" y2="532.51" stroke="#4fd6d6" stroke-width="3.0" stroke-linecap="round"/>
<line x1="442.57" y1="532.51" x2="419.46" y2="532.51" stroke="#92eaea" stroke-width="0.8400000000000001" />
<line x1="419.46" y1="532.51" x2="403.13" y2="515.56" stroke="#4fd6d6" stroke-width="3.0" stroke-linecap="round"/>
<line x1="419.46" y1="532.51" x2="403.13" y2="515.56" stroke="#92eaea" stroke-width="0.8400000000000001" />
<line x1="302.97" y1="515.56" x2="324.85" y2="519.57" stroke="#4fd6d6" stroke-width="3.0" stroke-linecap="round"/>
<line x1="302.97" y1="515.56" x2="324.85" y2="519.57" stroke="#92eaea" stroke-width="0.8400000000000001" />
<line x1="324.85" y1="519.57" x2="341.49" y2="503.24" stroke="#4fd6d6" stroke-width="3.0" stroke-linecap="round"/>
<line x1="324.85" y1="519.57" x2="341.49" y2="503.24" stroke="#92eaea" stroke-width="0.8400000000000001" />
<line x1="364.61" y1="503.24" x2="380.94" y2="519.57" stroke="#4fd6d6" stroke-width="3.0" stroke-linecap="round"/>
<line x1="364.61" y1="503.24" x2="380.94" y2="519.57" stroke="#92eaea" stroke-width="0.8400000000000001" />
<line x1="380.94" y1="519.57" x2="403.13" y2="515.56" stroke="#4fd6d6" stroke-width="3.0" stroke-linecap="round"/>
<line x1="380.94" y1="519.57" x2="403.13" y2="515.56" stroke="#92eaea" stroke-width="0.8400000000000001" />
<line x1="380.94" y1="519.57" x2="380.94" y2="543.91" stroke="#4fd6d6" stroke-width="3.0" stroke-linecap="round"/>
<line x1="380.94" y1="519.57" x2="380.94" y2="543.91" stroke="#92eaea" stroke-width="0.8400000000000001" />
<line x1="380.94" y1="543.91" x2="364.61" y2="560.25" stroke="#4fd6d6" stroke-width="3.0" stroke-linecap="round"/>
<line x1="380.94" y1="543.91" x2="364.61" y2="560.25" stroke="#92eaea" stroke-width="0.8400000000000001" />
<line x1="364.61" y1="560.25" x2="341.49" y2="560.25" stroke="#4fd6d6" stroke-width="3.0" stroke-linecap="round"/>
<line x1="364.61" y1="560.25" x2="341.49" y2="560.25" stroke="#92eaea" stroke-width="0.8400000000000001" />
<line x1="341.49" y1="560.25" x2="324.85" y2="543.91" stroke="#4fd6d6" stroke-width="3.0" stroke-linecap="round"/>
<line x1="341.49" y1="560.25" x2="324.85" y2="543.91" stroke="#92eaea" stroke-width="0.8400000000000001" />
<line x1="324.85" y1="543.91" x2="324.85" y2="519.57" stroke="#4fd6d6" stroke-width="3.0" stroke-linecap="round"/>
<line x1="324.85" y1="543.91" x2="324.85" y2="519.57" stroke="#92eaea" stroke-width="0.8400000000000001" />
<line x1="302.97" y1="515.56" x2="286.95" y2="532.51" stroke="#4fd6d6" stroke-width="3.0" stroke-linecap="round"/>
<line x1="302.97" y1="515.56" x2="286.95" y2="532.51" stroke="#92eaea" stroke-width="0.8400000000000001" />
<line x1="286.95" y1="532.51" x2="302.97" y2="548.84" stroke="#4fd6d6" stroke-width="3.0" stroke-linecap="round"/>
<line x1="286.95" y1="532.51" x2="302.97" y2="548.84" stroke="#92eaea" stroke-width="0.8400000000000001" />
<line x1="302.97" y1="548.84" x2="324.85" y2="543.91" stroke="#4fd6d6" stroke-width="3.0" stroke-linecap="round"/>
<line x1="302.97" y1="548.84" x2="324.85" y2="543.91" stroke="#92eaea" stroke-width="0.8400000000000001" />
<line x1="419.46" y1="532.51" x2="403.13" y2="548.84" stroke="#4fd6d6" stroke-width="3.0" stroke-linecap="round"/>
<line x1="419.46" y1="532.51" x2="403.13" y2="548.84" stroke="#92eaea" stroke-width="0.8400000000000001" />
<line x1="403.13" y1="548.84" x2="380.94" y2="543.91" stroke="#4fd6d6" stroke-width="3.0" stroke-linecap="round"/>
<line x1="403.13" y1="548.84" x2="380.94" y2="543.91" stroke="#92eaea" stroke-width="0.8400000000000001" />
<circle cx="419.5" cy="416.9" r="5.0" fill="url(#gc)"/>
<circle cx="442.6" cy="416.9" r="5.0" fill="url(#gc)"/>
<circle cx="303.0" cy="433.3" r="5.0" fill="url(#gc)"/>
<circle cx="324.9" cy="429.6" r="5.0" fill="url(#gc)"/>
<circle cx="380.9" cy="429.6" r="5.0" fill="url(#gc)"/>
<circle cx="403.1" cy="433.3" r="5.0" fill="url(#gc)"/>
<circle cx="459.5" cy="433.3" r="5.0" fill="url(#gc)"/>
<circle cx="341.5" cy="446.2" r="5.0" fill="url(#gc)"/>
<circle cx="364.6" cy="446.2" r="5.0" fill="url(#gc)"/>
<circle cx="303.0" cy="457.9" r="5.0" fill="url(#gc)"/>
<circle cx="324.9" cy="463.2" r="5.0" fill="url(#gc)"/>
<circle cx="380.9" cy="463.2" r="5.0" fill="url(#gc)"/>
<circle cx="403.1" cy="457.9" r="5.0" fill="url(#gc)"/>
<circle cx="459.5" cy="457.9" r="5.0" fill="url(#gc)"/>
<circle cx="286.9" cy="474.6" r="5.0" fill="url(#gc)"/>
<circle cx="419.5" cy="474.6" r="5.0" fill="url(#gc)"/>
<circle cx="442.6" cy="474.6" r="5.0" fill="url(#gc)"/>
<circle cx="303.0" cy="490.9" r="5.0" fill="url(#gc)"/>
<circle cx="324.9" cy="486.3" r="5.0" fill="url(#gc)"/>
<circle cx="380.9" cy="486.3" r="5.0" fill="url(#gc)"/>
<circle cx="403.1" cy="490.9" r="5.0" fill="url(#gc)"/>
<circle cx="459.5" cy="490.9" r="5.0" fill="url(#gc)"/>
<circle cx="341.5" cy="503.2" r="5.0" fill="url(#gc)"/>
<circle cx="364.6" cy="503.2" r="5.0" fill="url(#gc)"/>
<circle cx="303.0" cy="515.6" r="5.0" fill="url(#gc)"/>
<circle cx="324.9" cy="519.6" r="5.0" fill="url(#gc)"/>
<circle cx="380.9" cy="519.6" r="5.0" fill="url(#gc)"/>
<circle cx="403.1" cy="515.6" r="5.0" fill="url(#gc)"/>
<circle cx="459.5" cy="515.6" r="5.0" fill="url(#gc)"/>
<circle cx="286.9" cy="532.5" r="5.0" fill="url(#gc)"/>
<circle cx="419.5" cy="532.5" r="5.0" fill="url(#gc)"/>
<circle cx="442.6" cy="532.5" r="5.0" fill="url(#gc)"/>
<circle cx="303.0" cy="548.8" r="5.0" fill="url(#gc)"/>
<circle cx="324.9" cy="543.9" r="5.0" fill="url(#gc)"/>
<circle cx="380.9" cy="543.9" r="5.0" fill="url(#gc)"/>
<circle cx="403.1" cy="548.8" r="5.0" fill="url(#gc)"/>
<circle cx="341.5" cy="560.2" r="5.0" fill="url(#gc)"/>
<circle cx="364.6" cy="560.2" r="5.0" fill="url(#gc)"/>
<circle cx="353.2" cy="474.6" r="6.3" fill="url(#gp)"/>
<circle cx="353.2" cy="531.9" r="6.3" fill="url(#gp)"/>
<circle cx="430.9" cy="446.2" r="6.3" fill="url(#gp)"/>
<circle cx="430.9" cy="503.2" r="6.3" fill="url(#gp)"/>
</g>
<g id="panel-e">
<text transform="translate(515.70,408.00) scale(0.945,1)" font-size="27.4" fill="#000" font-family="Liberation Serif, serif">(e)</text>
<line x1="586.03" y1="425.53" x2="609.04" y2="420.60" stroke="#4fd6d6" stroke-width="3.0" stroke-linecap="round"/>
<line x1="586.03" y1="425.53" x2="609.04" y2="420.60" stroke="#92eaea" stroke-width="0.8400000000000001" />
<line x1="609.04" y1="420.60" x2="626.30" y2="437.59" stroke="#4fd6d6" stroke-width="3.0" stroke-linecap="round"/>
<line x1="609.04" y1="420.60" x2="626.30" y2="437.59" stroke="#92eaea" stroke-width="0.8400000000000001" />
<line x1="626.30" y1="437.59" x2="609.04" y2="454.85" stroke="#4fd6d6" stroke-width="3.0" stroke-linecap="round"/>
<line x1="626.30" y1="437.59" x2="609.04" y2="454.85" stroke="#92eaea" stroke-width="0.8400000000000001" />
<line x1="609.04" y1="454.85" x2="586.03" y2="449.37" stroke="#4fd6d6" stroke-width="3.0" stroke-linecap="round"/>
<line x1="609.04" y1="454.85" x2="586.03" y2="449.37" stroke="#92eaea" stroke-width="0.8400000000000001" />
<line x1="586.03" y1="449.37" x2="586.03" y2="425.53" stroke="#4fd6d6" stroke-width="3.0" stroke-linecap="round"/>
<line x1="586.03" y1="449.37" x2="586.03" y2="425.53" stroke="#92eaea" stroke-width="0.8400000000000001" />
<line x1="586.03" y1="449.37" x2="568.22" y2="466.35" stroke="#4fd6d6" stroke-width="3.0" stroke-linecap="round"/>
<line x1="586.03" y1="449.37" x2="568.22" y2="466.35" stroke="#92eaea" stroke-width="0.8400000000000001" />
<line x1="568.22" y1="466.35" x2="586.03" y2="483.61" stroke="#4fd6d6" stroke-width="3.0" stroke-linecap="round"/>
<line x1="568.22" y1="466.35" x2="586.03" y2="483.61" stroke="#92eaea" stroke-width="0.8400000000000001" />
<line x1="586.03" y1="483.61" x2="609.04" y2="479.23" stroke="#4fd6d6" stroke-width="3.0" stroke-linecap="round"/>
<line x1="586.03" y1="483.61" x2="609.04" y2="479.23" stroke="#92eaea" stroke-width="0.8400000000000001" />
<line x1="609.04" y1="479.23" x2="609.04" y2="454.85" stroke="#4fd6d6" stroke-width="3.0" stroke-linecap="round"/>
<line x1="609.04" y1="479.23" x2="609.04" y2="454.85" stroke="#92eaea" stroke-width="0.8400000000000001" />
<line x1="609.04" y1="479.23" x2="626.30" y2="495.94" stroke="#4fd6d6" stroke-width="3.0" stroke-linecap="round"/>
<line x1="609.04" y1="479.23" x2="626.30" y2="495.94" stroke="#92eaea" stroke-width="0.8400000000000001" />
<line x1="626.30" y1="495.94" x2="609.04" y2="512.93" stroke="#4fd6d6" stroke-width="3.0" stroke-linecap="round"/>
<line x1="626.30" y1="495.94" x2="609.04" y2="512.93" stroke="#92eaea" stroke-width="0.8400000000000001" />
<line x1="609.04" y1="512.93" x2="586.03" y2="506.90" stroke="#4fd6d6" stroke-width="3.0" stroke-linecap="round"/>
<line x1="609.04" y1="512.93" x2="586.03" y2="506.90" stroke="#92eaea" stroke-width="0.8400000000000001" />
<line x1="586.03" y1="506.90" x2="586.03" y2="483.61" stroke="#4fd6d6" stroke-width="3.0" stroke-linecap="round"/>
<line x1="586.03" y1="506.90" x2="586.03" y2="483.61" stroke="#92eaea" stroke-width="0.8400000000000001" />
<line x1="586.03" y1="506.90" x2="568.22" y2="524.44" stroke="#4fd6d6" stroke-width="3.0" stroke-linecap="round"/>
<line x1="586.03" y1="506.90" x2="568.22" y2="524.44" stroke="#92eaea" stroke-width="0.8400000000000001" />
<line x1="568.22" y1="524.44" x2="586.03" y2="542.24" stroke="#4fd6d6" stroke-width="3.0" stroke-linecap="round"/>
<line x1="568.22" y1="524.44" x2="586.03" y2="542.24" stroke="#92eaea" stroke-width="0.8400000000000001" />
<line x1="586.03" y1="542.24" x2="609.04" y2="536.76" stroke="#4fd6d6" stroke-width="3.0" stroke-linecap="round"/>
<line x1="586.03" y1="542.24" x2="609.04" y2="536.76" stroke="#92eaea" stroke-width="0.8400000000000001" />
<line x1="609.04" y1="536.76" x2="609.04" y2="512.93" stroke="#4fd6d6" stroke-width="3.0" stroke-linecap="round"/>
<line x1="609.04" y1="536.76" x2="609.04" y2="512.93" stroke="#92eaea" stroke-width="0.8400000000000001" />
<circle cx="586.0" cy="425.5" r="4.9" fill="url(#gc)"/>
<circle cx="609.0" cy="420.6" r="4.9" fill="url(#gc)"/>
<circle cx="626.3" cy="437.6" r="4.9" fill="url(#gc)"/>
<circle cx="586.0" cy="449.4" r="4.9" fill="url(#gc)"/>
<circle cx="609.0" cy="454.8" r="4.9" fill="url(#gc)"/>
<circle cx="568.2" cy="466.4" r="4.9" fill="url(#gc)"/>
<circle cx="609.0" cy="479.2" r="4.9" fill="url(#gc)"/>
<circle cx="586.0" cy="483.6" r="4.9" fill="url(#gc)"/>
<circle cx="626.3" cy="495.9" r="4.9" fill="url(#gc)"/>
<circle cx="586.0" cy="506.9" r="4.9" fill="url(#gc)"/>
<circle cx="609.0" cy="512.9" r="4.9" fill="url(#gc)"/>
<circle cx="568.2" cy="524.4" r="4.9" fill="url(#gc)"/>
<circle cx="609.0" cy="536.8" r="4.9" fill="url(#gc)"/>
<circle cx="586.0" cy="542.2" r="4.9" fill="url(#gc)"/>
<line x1="685.48" y1="425.53" x2="708.49" y2="420.60" stroke="#4fd6d6" stroke-width="3.0" stroke-linecap="round"/>
<line x1="685.48" y1="425.53" x2="708.49" y2="420.60" stroke="#92eaea" stroke-width="0.8400000000000001" />
<line x1="708.49" y1="420.60" x2="725.75" y2="437.59" stroke="#4fd6d6" stroke-width="3.0" stroke-linecap="round"/>
<line x1="708.49" y1="420.60" x2="725.75" y2="437.59" stroke="#92eaea" stroke-width="0.8400000000000001" />
<line x1="725.75" y1="437.59" x2="708.49" y2="454.85" stroke="#4fd6d6" stroke-width="3.0" stroke-linecap="round"/>
<line x1="725.75" y1="437.59" x2="708.49" y2="454.85" stroke="#92eaea" stroke-width="0.8400000000000001" />
<line x1="708.49" y1="454.85" x2="685.48" y2="449.37" stroke="#4fd6d6" stroke-width="3.0" stroke-linecap="round"/>
<line x1="708.49" y1="454.85" x2="685.48" y2="449.37" stroke="#92eaea" stroke-width="0.8400000000000001" />
<line x1="685.48" y1="449.37" x2="685.48" y2="425.53" stroke="#4fd6d6" stroke-width="3.0" stroke-linecap="round"/>
<line x1="685.48" y1="449.37" x2="685.48" y2="425.53" stroke="#92eaea" stroke-width="0.8400000000000001" />
<line x1="685.48" y1="449.37" x2="667.67" y2="466.35" stroke="#4fd6d6" stroke-width="3.0" stroke-linecap="round"/>
<line x1="685.48" y1="449.37" x2="667.67" y2="466.35" stroke="#92eaea" stroke-width="0.8400000000000001" />
<line x1="667.67" y1="466.35" x2="685.48" y2="483.61" stroke="#4fd6d6" stroke-width="3.0" stroke-linecap="round"/>
<line x1="667.67" y1="466.35" x2="685.48" y2="483.61" stroke="#92eaea" stroke-width="0.8400000000000001" />
<line x1="685.48" y1="483.61" x2="708.49" y2="479.23" stroke="#4fd6d6" stroke-width="3.0" stroke-linecap="round"/>
<line x1="685.48" y1="483.61" x2="708.49" y2="479.23" stroke="#92eaea" stroke-width="0.8400000000000001" />
<line x1="708.49" y1="479.23" x2="708.49" y2="454.85" stroke="#4fd6d6" stroke-width="3.0" stroke-linecap="round"/>
<line x1="708.49" y1="479.23" x2="708.49" y2="454.85" stroke="#92eaea" stroke-width="0.8400000000000001" />
<line x1="708.49" y1="479.23" x2="725.75" y2="495.94" stroke="#4fd6d6" stroke-width="3.0" stroke-linecap="round"/>
<line x1="708.49" y1="479.23" x2="725.75" y2="495.94" stroke="#92eaea" stroke-width="0.8400000000000001" />
<line x1="725.75" y1="495.94" x2="708.49" y2="512.93" stroke="#4fd6d6" stroke-width="3.0" stroke-linecap="round"/>
<line x1="725.75" y1="495.94" x2="708.49" y2="512.93" stroke="#92eaea" stroke-width="0.8400000000000001" />
<line x1="708.49" y1="512.93" x2="685.48" y2="506.90" stroke="#4fd6d6" stroke-width="3.0" stroke-linecap="round"/>
<line x1="708.49" y1="512.93" x2="685.48" y2="506.90" stroke="#92eaea" stroke-width="0.8400000000000001" />
<line x1="685.48" y1="506.90" x2="685.48" y2="483.61" stroke="#4fd6d6" stroke-width="3.0" stroke-linecap="round"/>
<line x1="685.48" y1="506.90" x2="685.48" y2="483.61" stroke="#92eaea" stroke-width="0.8400000000000001" />
<line x1="685.48" y1="506.90" x2="667.67" y2="524.44" stroke="#4fd6d6" stroke-width="3.0" stroke-linecap="round"/>
<line x1="685.48" y1="506.90" x2="667.67" y2="524.44" stroke="#92eaea" stroke-width="0.8400000000000001" />
<line x1="667.67" y1="524.44" x2="685.48" y2="542.24" stroke="#4fd6d6" stroke-width="3.0" stroke-linecap="round"/>
<line x1="667.67" y1="524.44" x2="685.48" y2="542.24" stroke="#92eaea" stroke-width="0.8400000000000001" />
<line x1="685.48" y1="542.24" x2="708.49" y2="536.76" stroke="#4fd6d6" stroke-width="3.0" stroke-linecap="round"/>
<line x1="685.48" y1="542.24" x2="708.49" y2="536.76" stroke="#92eaea" stroke-width="0.8400000000000001" />
<line x1="708.49" y1="536.76" x2="708.49" y2="512.93" stroke="#4fd6d6" stroke-width="3.0" stroke-linecap="round"/>
<line x1="708.49" y1="536.76" x2="708.49" y2="512.93" stroke="#92eaea" stroke-width="0.8400000000000001" />
<circle cx="685.5" cy="425.5" r="4.9" fill="url(#gc)"/>
<circle cx="708.5" cy="420.6" r="4.9" fill="url(#gc)"/>
<circle cx="725.8" cy="437.6" r="4.9" fill="url(#gc)"/>
<circle cx="685.5" cy="449.4" r="4.9" fill="url(#gc)"/>
<circle cx="708.5" cy="454.8" r="4.9" fill="url(#gc)"/>
<circle cx="667.7" cy="466.4" r="4.9" fill="url(#gc)"/>
<circle cx="708.5" cy="479.2" r="4.9" fill="url(#gc)"/>
<circle cx="685.5" cy="483.6" r="4.9" fill="url(#gc)"/>
<circle cx="725.8" cy="495.9" r="4.9" fill="url(#gc)"/>
<circle cx="685.5" cy="506.9" r="4.9" fill="url(#gc)"/>
<circle cx="708.5" cy="512.9" r="4.9" fill="url(#gc)"/>
<circle cx="667.7" cy="524.4" r="4.9" fill="url(#gc)"/>
<circle cx="708.5" cy="536.8" r="4.9" fill="url(#gc)"/>
<circle cx="685.5" cy="542.2" r="4.9" fill="url(#gc)"/>
<circle cx="555.9" cy="437.6" r="6.2" fill="url(#gp)"/>
<circle cx="555.9" cy="495.9" r="6.2" fill="url(#gp)"/>
<circle cx="639.2" cy="466.9" r="6.2" fill="url(#gp)"/>
<circle cx="639.2" cy="525.3" r="6.2" fill="url(#gp)"/>
<circle cx="655.3" cy="437.6" r="6.2" fill="url(#gp)"/>
<circle cx="655.3" cy="495.9" r="6.2" fill="url(#gp)"/>
<circle cx="738.6" cy="466.9" r="6.2" fill="url(#gp)"/>
<circle cx="738.6" cy="525.3" r="6.2" fill="url(#gp)"/>
</g>
<g id="panel-f">
<text transform="translate(767.50,409.00) scale(0.945,1)" font-size="27.4" fill="#000" font-family="Liberation Serif, serif">(f)</text>
<line x1="831.58" y1="392.38" x2="831.58" y2="542.27" stroke="#3c3c3c" stroke-width="1.15" />
<line x1="878.16" y1="395.10" x2="878.16" y2="544.99" stroke="#3c3c3c" stroke-width="1.15" />
<line x1="831.58" y1="392.38" x2="878.16" y2="395.10" stroke="#3c3c3c" stroke-width="1.15" />
<line x1="831.58" y1="542.27" x2="878.16" y2="544.99" stroke="#3c3c3c" stroke-width="1.15" />
<line x1="831.58" y1="440.30" x2="878.16" y2="442.68" stroke="#48d2d2" stroke-width="2.1" />
<line x1="878.16" y1="442.68" x2="925.76" y2="445.40" stroke="#48d2d2" stroke-width="2.1" />
<line x1="831.58" y1="495.37" x2="878.16" y2="497.75" stroke="#48d2d2" stroke-width="2.1" />
<line x1="878.16" y1="497.75" x2="925.76" y2="500.47" stroke="#48d2d2" stroke-width="2.1" />
<line x1="831.58" y1="440.30" x2="831.58" y2="495.37" stroke="#48d2d2" stroke-width="2.1" />
<line x1="878.16" y1="442.68" x2="878.16" y2="497.75" stroke="#48d2d2" stroke-width="2.1" />
<line x1="925.76" y1="445.40" x2="925.76" y2="500.47" stroke="#48d2d2" stroke-width="2.1" />
<circle cx="831.6" cy="440.3" r="6.7" fill="url(#gc)"/>
<circle cx="878.2" cy="442.7" r="6.7" fill="url(#gc)"/>
<circle cx="925.8" cy="445.4" r="6.7" fill="url(#gc)"/>
<circle cx="831.6" cy="495.4" r="6.7" fill="url(#gc)"/>
<circle cx="878.2" cy="497.7" r="6.7" fill="url(#gc)"/>
<circle cx="925.8" cy="500.5" r="6.7" fill="url(#gc)"/>
<circle cx="831.6" cy="392.4" r="8.6" fill="url(#gp)"/>
<circle cx="878.2" cy="395.1" r="8.6" fill="url(#gp)"/>
<circle cx="925.8" cy="397.8" r="8.6" fill="url(#gp)"/>
<circle cx="831.6" cy="541.3" r="8.6" fill="url(#gp)"/>
<circle cx="878.2" cy="544.7" r="8.6" fill="url(#gp)"/>
<circle cx="925.8" cy="548.1" r="8.6" fill="url(#gp)"/>
<line x1="815.48" y1="399.18" x2="831.58" y2="392.38" stroke="#3c3c3c" stroke-width="1.15" />
<line x1="862.40" y1="402.57" x2="878.16" y2="395.10" stroke="#3c3c3c" stroke-width="1.15" />
<line x1="815.48" y1="549.07" x2="831.58" y2="542.27" stroke="#3c3c3c" stroke-width="1.15" />
<line x1="862.40" y1="552.47" x2="878.16" y2="544.99" stroke="#3c3c3c" stroke-width="1.15" />
<line x1="815.48" y1="447.10" x2="831.58" y2="440.30" stroke="#2a9ea0" stroke-width="1.5" />
<line x1="862.40" y1="450.50" x2="878.16" y2="442.68" stroke="#2a9ea0" stroke-width="1.5" />
<line x1="910.35" y1="452.88" x2="925.76" y2="445.40" stroke="#2a9ea0" stroke-width="1.5" />
<line x1="815.48" y1="502.17" x2="831.58" y2="495.37" stroke="#2a9ea0" stroke-width="1.5" />
<line x1="862.40" y1="505.57" x2="878.16" y2="497.75" stroke="#2a9ea0" stroke-width="1.5" />
<line x1="910.35" y1="507.94" x2="925.76" y2="500.47" stroke="#2a9ea0" stroke-width="1.5" />
<circle cx="846.3" cy="424.3" r="7.4" fill="url(#gc)"/>
<circle cx="893.9" cy="427.0" r="7.4" fill="url(#gc)"/>
<circle cx="846.3" cy="519.5" r="7.4" fill="url(#gc)"/>
<circle cx="893.9" cy="522.2" r="7.4" fill="url(#gc)"/>
<circle cx="846.3" cy="472.1" r="9.3" fill="url(#gp)"/>
<circle cx="894.3" cy="474.3" r="9.3" fill="url(#gp)"/>
<line x1="815.48" y1="399.18" x2="815.48" y2="549.07" stroke="#3c3c3c" stroke-width="1.15" />
<line x1="862.40" y1="402.57" x2="862.40" y2="552.47" stroke="#3c3c3c" stroke-width="1.15" />
<line x1="815.48" y1="399.18" x2="862.40" y2="402.57" stroke="#3c3c3c" stroke-width="1.15" />
<line x1="815.48" y1="549.07" x2="862.40" y2="552.47" stroke="#3c3c3c" stroke-width="1.15" />
<line x1="815.48" y1="447.10" x2="862.40" y2="450.50" stroke="#48d2d2" stroke-width="2.1" />
<line x1="862.40" y1="450.50" x2="910.35" y2="452.88" stroke="#48d2d2" stroke-width="2.1" />
<line x1="815.48" y1="502.17" x2="862.40" y2="505.57" stroke="#48d2d2" stroke-width="2.1" />
<line x1="862.40" y1="505.57" x2="910.35" y2="507.94" stroke="#48d2d2" stroke-width="2.1" />
<line x1="815.48" y1="447.10" x2="815.48" y2="502.17" stroke="#48d2d2" stroke-width="2.1" />
<line x1="862.40" y1="450.50" x2="862.40" y2="505.57" stroke="#48d2d2" stroke-width="2.1" />
<line x1="910.35" y1="452.88" x2="910.35" y2="507.94" stroke="#48d2d2" stroke-width="2.1" />
<circle cx="815.5" cy="447.1" r="6.9" fill="url(#gc)"/>
<circle cx="862.4" cy="450.5" r="6.9" fill="url(#gc)"/>
<circle cx="910.3" cy="452.9" r="6.9" fill="url(#gc)"/>
<circle cx="815.5" cy="502.2" r="6.9" fill="url(#gc)"/>
<circle cx="862.4" cy="505.6" r="6.9" fill="url(#gc)"/>
<circle cx="910.3" cy="507.9" r="6.9" fill="url(#gc)"/>
<circle cx="815.5" cy="399.2" r="8.9" fill="url(#gp)"/>
<circle cx="862.4" cy="402.6" r="8.9" fill="url(#gp)"/>
<circle cx="910.3" cy="404.6" r="8.9" fill="url(#gp)"/>
<circle cx="815.5" cy="549.1" r="8.9" fill="url(#gp)"/>
<circle cx="862.4" cy="552.5" r="8.9" fill="url(#gp)"/>
<circle cx="910.3" cy="555.5" r="8.9" fill="url(#gp)"/>
</g>
</svg>
</body></html>
